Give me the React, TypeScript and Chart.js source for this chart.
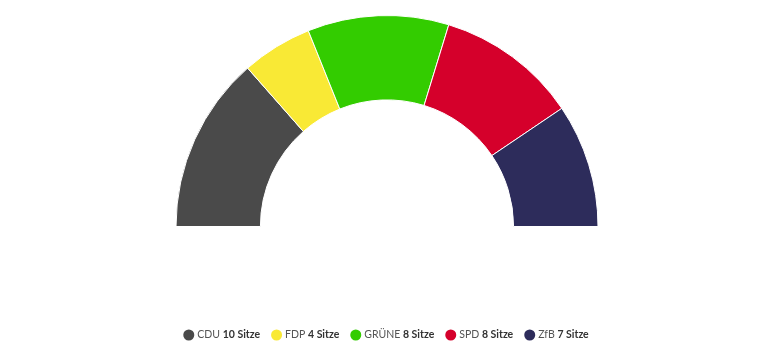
import React, { useEffect, useRef } from "react";
import { Chart, registerables } from "chart.js";

Chart.register(...registerables);

const parties = ["CDU", "FDP", "GRÜNE", "SPD", "ZfB"];
const seats = [10, 4, 8, 8, 7];
const colors = ["#4a4a4a", "#f9e935", "#33cc00", "#d5002b", "#2d2c5b"];
const seatSuffix = "Sitze";

const legendPlugin = {
  id: "customLegend",
  afterDraw(chart: any) {
    const ctx = chart.ctx;
    const y = 335;
    const normalFont = "10.5px Lato";
    const boldFont = "bold 10.5px Lato";
    const dot = 5.5;
    const dotGap = 3;
    const itemGap = 11;
    const items = parties.map((p, i) => {
      ctx.font = normalFont;
      const w1 = ctx.measureText(p + " ").width;
      ctx.font = boldFont;
      const w2 = ctx.measureText(`${seats[i]} ${seatSuffix}`).width;
      return { p, i, w1, w2, total: dot * 2 + dotGap + w1 + w2 };
    });
    const totalW = items.reduce((s, it) => s + it.total, 0) + itemGap * (items.length - 1);
    let x = 386 - totalW / 2;
    ctx.save();
    ctx.textBaseline = "middle";
    items.forEach((it) => {
      ctx.beginPath();
      ctx.fillStyle = colors[it.i];
      ctx.arc(x + dot, y, dot, 0, Math.PI * 2);
      ctx.fill();
      let tx = x + dot * 2 + dotGap;
      ctx.font = normalFont;
      ctx.fillStyle = "#555555";
      ctx.fillText(it.p + " ", tx, y);
      tx += it.w1;
      ctx.font = boldFont;
      ctx.fillStyle = "#333333";
      ctx.fillText(`${seats[it.i]} ${seatSuffix}`, tx, y);
      x += it.total + itemGap;
    });
    ctx.restore();
  },
};

export default function App() {
  const ref = useRef<HTMLCanvasElement>(null);
  useEffect(() => {
    if (!ref.current) return;
    const chart = new Chart(ref.current, {
      type: "doughnut",
      data: {
        labels: parties,
        datasets: [
          {
            data: seats,
            backgroundColor: colors,
            borderColor: "#ffffff",
            borderWidth: 1,
          },
        ],
      },
      options: {
        animation: false,
        responsive: false,
        rotation: -90,
        circumference: 180,
        cutout: "60%",
        layout: { padding: { left: 0, right: 6, top: 15, bottom: 123 } },
        plugins: {
          legend: { display: false },
          tooltip: { enabled: false },
        },
      },
      plugins: [legendPlugin],
    });
    return () => chart.destroy();
  }, []);
  return (
    <div style={{ position: "fixed", left: 0, top: 0, width: 780, height: 350, background: "#fff" }}>
      <canvas ref={ref} width={780} height={350} style={{ width: 780, height: 350 }} />
    </div>
  );
}
